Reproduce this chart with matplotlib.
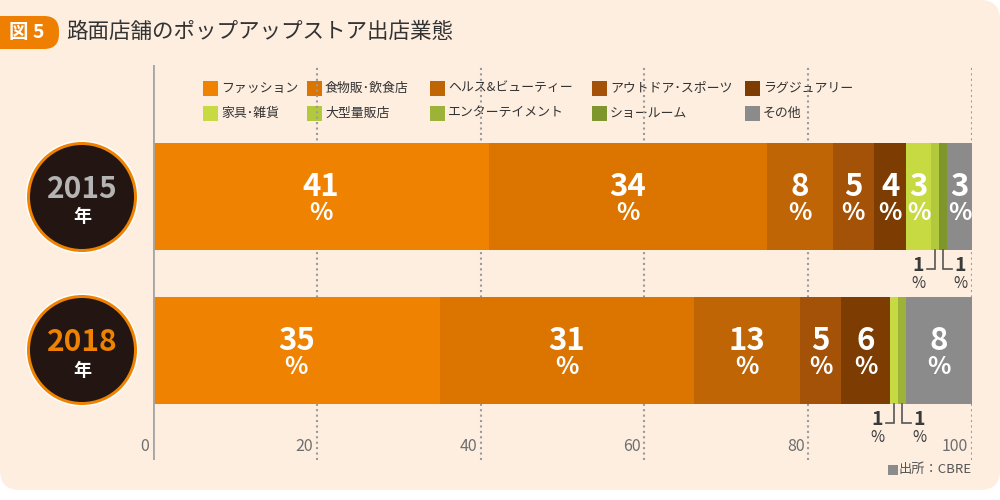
import matplotlib.pyplot as plt
from matplotlib.patches import Circle, FancyBboxPatch, Rectangle

plt.rcParams['font.family'] = ['Noto Sans CJK JP', 'DejaVu Sans']

# data
years = ['2015', '2018']
categories = ['ファッション', '食物販･飲食店', 'ヘルス&ビューティー', 'アウトドア･スポーツ', 'ラグジュアリー',
              '家具･雑貨', '大型量販店', 'エンターテイメント', 'ショールーム', 'その他']
share_2015 = [41, 34, 8, 5, 4, 3, 1, 0, 1, 3]
share_2018 = [35, 31, 13, 5, 6, 1, 0, 1, 0, 8]
ticks = [0, 20, 40, 60, 80, 100]

palette = ['#ef8200', '#db7500', '#c06505', '#a35208', '#7c3c02',
           '#c8da42', '#b3c93d', '#9cb238', '#7f962c', '#8b8b8b']
year_colors = ['#b4b4b4', '#ef8200']

BG = '#fdeee0'
DARK = '#3a3a3a'

fig = plt.figure(figsize=(10, 5), dpi=100, facecolor='white')

# background layer in pixel coordinates
bg = fig.add_axes([0, 0, 1, 1], zorder=0)
bg.set_xlim(0, 1000)
bg.set_ylim(500, 0)
bg.axis('off')
bg.add_patch(FancyBboxPatch((0, 0), 1000, 490, boxstyle='round,pad=0,rounding_size=20',
                            fc=BG, ec='none'))
bg.add_patch(Rectangle((0, 0), 40, 40, fc=BG, ec='none'))

# title banner
bg.add_patch(FancyBboxPatch((-40, 16), 99, 33, boxstyle='round,pad=0,rounding_size=15',
                            fc='#ee7f00', ec='none', clip_on=True))
bg.text(27, 32, '図 5', color='white', fontsize=14, fontweight='bold', ha='center', va='center')
bg.text(66, 32, '路面店舗のポップアップストア出店業態', color='#333333', fontsize=15.5,
        ha='left', va='center')

# year badges
for i, yr in enumerate(years):
    cy = [197, 350][i]
    bg.add_patch(Circle((82, cy), 56.5, fc='white', ec='none'))
    bg.add_patch(Circle((82, cy), 55, fc='#ef8200', ec='none'))
    bg.add_patch(Circle((82, cy), 52, fc='#231612', ec='none'))
    bg.text(82, cy - 8, yr, color=year_colors[i], fontsize=21.5, fontweight='bold',
            ha='center', va='center')
    bg.text(82, cy + 20, '年', color='white', fontsize=13, fontweight='bold',
            ha='center', va='center')

# legend
leg_x = [203, 307, 430, 592, 745]
leg_y = [88, 113]
for k, cat in enumerate(categories):
    lx = leg_x[k % 5]
    ly = leg_y[k // 5]
    bg.add_patch(Rectangle((lx, ly - 7.5), 15, 15, fc=palette[k], ec='none', zorder=5))
    bg.text(lx + 18, ly, cat, color='#333333', fontsize=9.3, ha='left', va='center', zorder=5)

# main chart
ax = fig.add_axes([0.153, 0.08, 0.819, 0.79], zorder=1)
ax.set_facecolor('none')
ax.set_xlim(0, 100)
ax.set_ylim(1.711, -0.854)
for s in ax.spines.values():
    s.set_visible(False)
ax.set_xticks([])
ax.set_yticks([])

for t in ticks[1:]:
    ax.axvline(t, color='#9a9a9a', lw=1.5, ls=(0, (1, 1.6)), zorder=0)
ax.axvline(0, color='#a6a6a6', lw=2, zorder=3)
for t in ticks:
    ax.text(t - 0.45, 0.035, str(t), transform=ax.get_xaxis_transform(), color='#6e6e6e',
            fontsize=11.5, ha='right', va='center')

sx = 8.19   # px per x unit
sy = 154.0  # px per y unit
bar_h = 0.70
for row, shares in enumerate([share_2015, share_2018]):
    left = 0
    small = 0
    for k, v in enumerate(shares):
        if v == 0:
            continue
        ax.barh(row, v, left=left, height=bar_h, color=palette[k], ec='none', zorder=2)
        cx = left + v / 2
        left += v
        if v >= 3:
            ax.text(cx, row - 10 / sy, str(v), color='white', fontsize=22.5, fontweight='bold',
                    ha='center', va='center', zorder=4)
            ax.text(cx, row + 16 / sy, '%', color='white', fontsize=17.5, fontweight='bold',
                    ha='center', va='center', zorder=4)
        else:
            side = -1 if small == 0 else 1
            small += 1
            y0 = row + bar_h / 2
            y1 = y0 + 19 / sy
            ax.plot([cx, cx, cx + side * 8.3 / sx], [y0, y1, y1], color='#555555', lw=1.2, zorder=4,
                    solid_joinstyle='miter')
            lx = cx + side * 17 / sx
            ax.text(lx, y1 - 4 / sy, str(v), color=DARK, fontsize=14, fontweight='bold',
                    ha='center', va='center', zorder=4)
            ax.text(lx, y1 + 14 / sy, '%', color=DARK, fontsize=11,
                    ha='center', va='center', zorder=4)

# source
src = bg.text(972, 470, '出所：CBRE', color='#555555', fontsize=9.5, ha='right', va='center')
fig.canvas.draw()
src_x0 = bg.transData.inverted().transform(src.get_window_extent().p0)[0]
bg.add_patch(Rectangle((src_x0 - 11, 465), 10, 10, fc='#8b8b8b', ec='none'))

fig.savefig('out.png', dpi=100, facecolor='white')
